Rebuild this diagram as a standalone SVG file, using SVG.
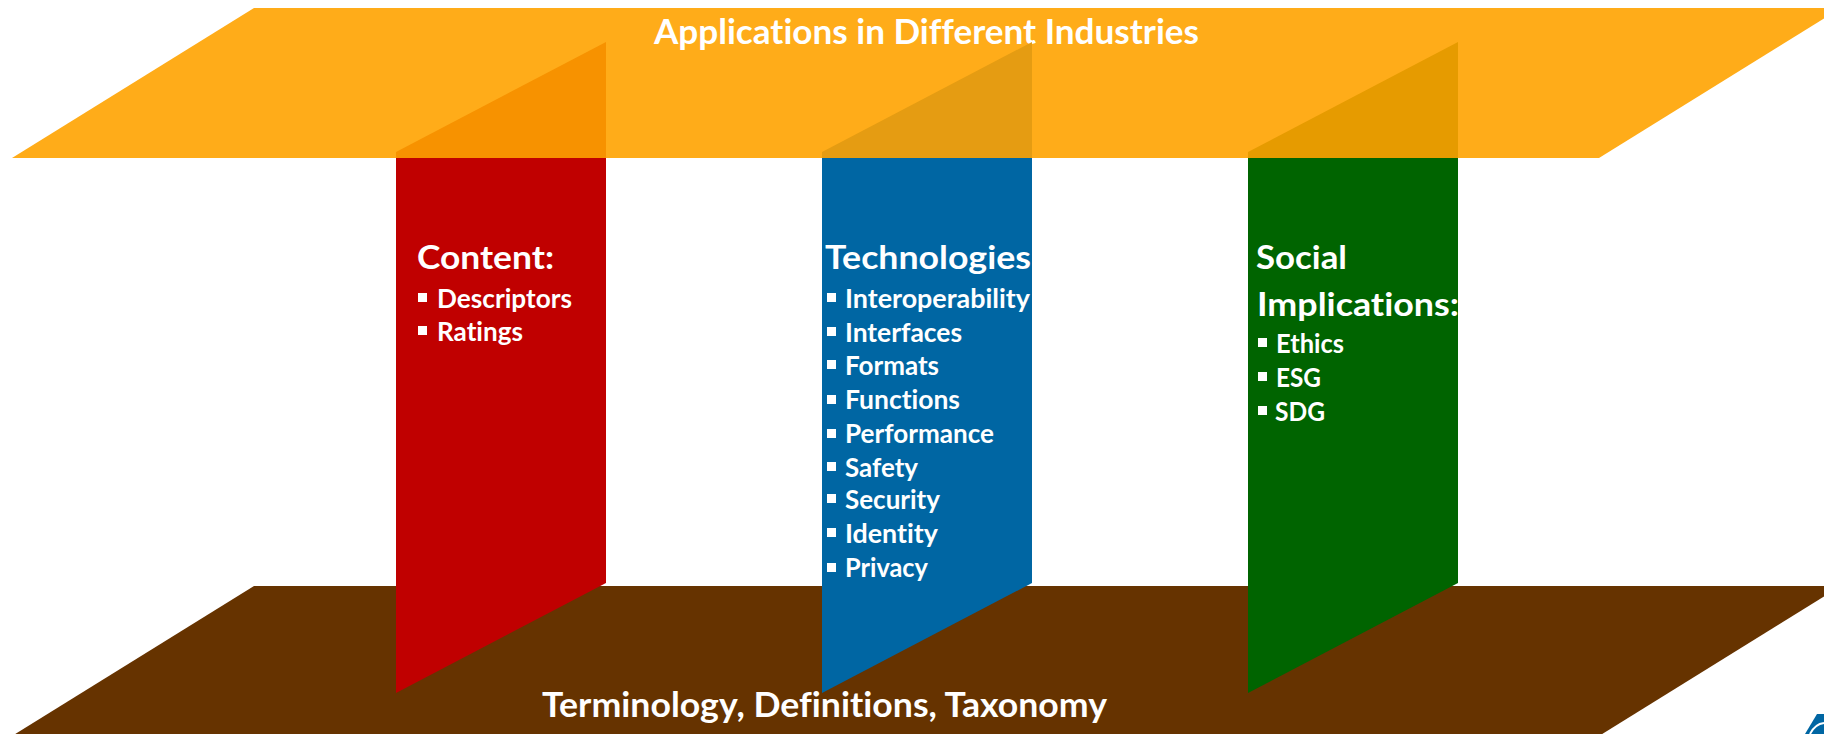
<svg xmlns="http://www.w3.org/2000/svg" width="1824" height="734" viewBox="0 0 1824 734">
<style>
text{font-family:Lato,"Noto Sans","Liberation Sans",sans-serif;font-weight:700;fill:#fff;font-variant-ligatures:none}
.plane{font-size:34px}
.head{font-size:33px}
.item{font-size:26px}
.bul{fill:#fff}
</style>
<rect width="1824" height="734" fill="#fff"/>
<g id="plane-top">
<polygon points="254,8 1841,8 1599,158 12,158" fill="#FFAC19"/>
<text class="plane" x="654" y="44" textLength="545" lengthAdjust="spacingAndGlyphs">Applications in Different Industries</text>
</g>
<g id="plane-bottom">
<polygon points="254,586 1841,586 1599,736 12,736" fill="#663300"/>
<text class="plane" x="542" y="717" textLength="565" lengthAdjust="spacingAndGlyphs">Terminology, Definitions, Taxonomy</text>
</g>
<g id="column-content">
<polygon points="396,158 606,158 606,583 396,693" fill="#C00000"/>
<polygon points="396,152 606,42 606,158 396,158" fill="#F79200"/>
<text class="head" x="417" y="269" textLength="137" lengthAdjust="spacingAndGlyphs">Content:</text>
<rect class="bul" x="418" y="293" width="9" height="9"/>
<text class="item" x="437" y="308" textLength="135" lengthAdjust="spacingAndGlyphs">Descriptors</text>
<rect class="bul" x="418" y="326" width="9" height="9"/>
<text class="item" x="437" y="341" textLength="86" lengthAdjust="spacingAndGlyphs">Ratings</text>
</g>
<g id="column-technologies">
<polygon points="822,158 1032,158 1032,583 822,693" fill="#0066A3"/>
<polygon points="822,152 1032,42 1032,158 822,158" fill="#E59C12"/>
<text class="head" x="825" y="269" textLength="206" lengthAdjust="spacingAndGlyphs">Technologies</text>
<rect class="bul" x="827" y="293" width="9" height="9"/><text class="item" x="845" y="308" textLength="185" lengthAdjust="spacingAndGlyphs">Interoperability</text>
<rect class="bul" x="827" y="327" width="9" height="9"/><text class="item" x="845" y="342" textLength="117" lengthAdjust="spacingAndGlyphs">Interfaces</text>
<rect class="bul" x="827" y="360" width="9" height="9"/><text class="item" x="845" y="375" textLength="94" lengthAdjust="spacingAndGlyphs">Formats</text>
<rect class="bul" x="827" y="395" width="9" height="9"/><text class="item" x="845" y="409" textLength="115" lengthAdjust="spacingAndGlyphs">Functions</text>
<rect class="bul" x="827" y="429" width="9" height="9"/><text class="item" x="845" y="443" textLength="149" lengthAdjust="spacingAndGlyphs">Performance</text>
<rect class="bul" x="827" y="462" width="9" height="9"/><text class="item" x="845" y="477" textLength="73" lengthAdjust="spacingAndGlyphs">Safety</text>
<rect class="bul" x="827" y="494" width="9" height="9"/><text class="item" x="845" y="509" textLength="95" lengthAdjust="spacingAndGlyphs">Security</text>
<rect class="bul" x="827" y="528" width="9" height="9"/><text class="item" x="845" y="543" textLength="93" lengthAdjust="spacingAndGlyphs">Identity</text>
<rect class="bul" x="827" y="563" width="9" height="9"/><text class="item" x="845" y="577" textLength="83" lengthAdjust="spacingAndGlyphs">Privacy</text>
</g>
<g id="column-social">
<polygon points="1248,158 1458,158 1458,583 1248,693" fill="#006400"/>
<polygon points="1248,152 1458,42 1458,158 1248,158" fill="#E69B00"/>
<text class="head" x="1256" y="269" textLength="91" lengthAdjust="spacingAndGlyphs">Social</text>
<text class="head" x="1257" y="316" textLength="202" lengthAdjust="spacingAndGlyphs">Implications:</text>
<rect class="bul" x="1258" y="338" width="9" height="9"/><text class="item" x="1276" y="353" textLength="68" lengthAdjust="spacingAndGlyphs">Ethics</text>
<rect class="bul" x="1258" y="372" width="9" height="9"/><text class="item" x="1276" y="387" textLength="45" lengthAdjust="spacingAndGlyphs">ESG</text>
<rect class="bul" x="1258" y="406" width="9" height="9"/><text class="item" x="1275" y="421" textLength="50" lengthAdjust="spacingAndGlyphs">SDG</text>
</g>
<g id="logo-fragment">
<polygon points="1805,734 1817,714 1824,714 1824,734" fill="#0066A3"/>
<path d="M1810,734 Q1815,724 1824,723" fill="none" stroke="#fff" stroke-width="2"/>
</g>
</svg>
